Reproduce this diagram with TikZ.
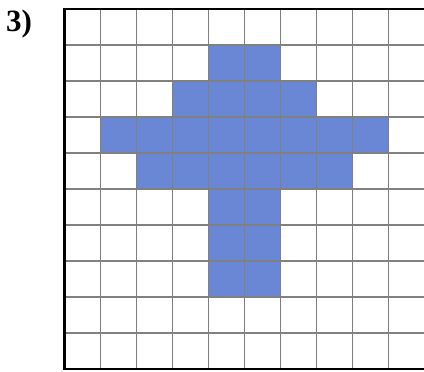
\documentclass[tikz,border=0pt]{standalone}
\usepackage{fontspec}
\setmainfont{Liberation Serif}
\definecolor{cellblue}{RGB}{106,135,214}
\begin{document}
\begin{tikzpicture}[x=36pt, y=36pt,
    cell/.style={fill=cellblue},
    gridline/.style={draw=gray, line width=1.6pt},
    frame/.style={draw=black, line width=2.8pt}]
  \useasboundingbox (-1.792,-0.056) rectangle (9.986,10.25);
  % filled cells, row index counted from the bottom
  \foreach \r/\a/\b in {8/4/5, 7/3/6, 6/1/8, 5/2/7, 4/4/5, 3/4/5, 2/4/5}
    \foreach \c in {\a,...,\b}
      \path[cell] (\c,\r) rectangle ++(1,1);
  \draw[gridline, step=1] (0,0) grid (10,10);
  \draw[frame] (10,10) -- (0,10) -- (0,0) -- (10,0);
  \node[font=\bfseries\fontsize{31}{31}\selectfont] (num) at (-1.264,9.58) {3)};
\end{tikzpicture}
\end{document}
